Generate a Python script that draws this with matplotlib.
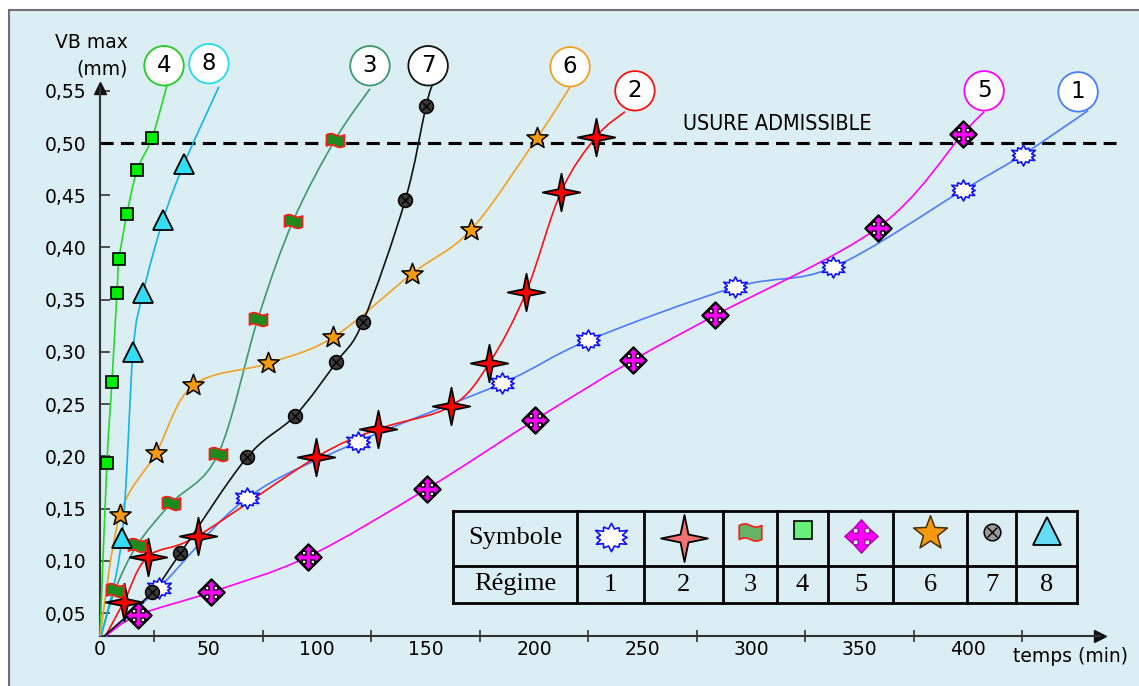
import numpy as np
import matplotlib
matplotlib.use("Agg")
import matplotlib.pyplot as plt
from matplotlib.path import Path
from matplotlib.patches import PathPatch, Rectangle

# ---- données (temps en min, VB max en mm) ----
Y0 = 0.028  # valeur au bas de l'axe vertical (origine des courbes)
regimes = [1, 2, 3, 4, 5, 6, 7, 8]

t1 = [27.2, 67.7, 118.9, 185.3, 224.9, 292.6, 337.8, 397.7, 425.3]
vb1 = [0.074, 0.160, 0.214, 0.270, 0.311, 0.362, 0.381, 0.455, 0.489]

t2 = [11.1, 22.1, 45.2, 99.5, 128.1, 161.8, 179.3, 196.3, 212.4, 228.6]
vb2 = [0.061, 0.104, 0.124, 0.199, 0.226, 0.248, 0.289, 0.357, 0.453, 0.506]

t3 = [6.9, 17.1, 32.7, 54.4, 72.8, 88.9, 108.3]
vb3 = [0.072, 0.115, 0.155, 0.202, 0.332, 0.425, 0.503]

t4 = [3.2, 5.5, 7.8, 8.8, 12.4, 17.1, 24.0]
vb4 = [0.194, 0.271, 0.356, 0.389, 0.432, 0.474, 0.505]

t5 = [17.5, 51.2, 95.9, 150.7, 200.5, 245.6, 283.4, 358.5, 397.7]
vb5 = [0.048, 0.070, 0.104, 0.169, 0.235, 0.292, 0.335, 0.419, 0.509]

t6 = [9.2, 25.8, 42.9, 77.4, 107.4, 143.8, 171.0, 201.4]
vb6 = [0.144, 0.203, 0.268, 0.289, 0.314, 0.375, 0.417, 0.505]

t7 = [24.0, 36.9, 67.7, 89.9, 108.8, 121.2, 140.6, 150.2]
vb7 = [0.070, 0.107, 0.199, 0.239, 0.290, 0.329, 0.445, 0.535]

t8 = [10.1, 15.2, 19.8, 29.0, 38.7]
vb8 = [0.122, 0.300, 0.356, 0.426, 0.480]

# début des courbes sur l'axe des temps
t_debut = [2.5, 2.5, 0.5, 0.0, 2.5, 0.0, 2.0, 0.5]
# fin des courbes (vers la bulle) et centre des bulles numérotées
t_fin = [455.3, 241.9, 124.4, 30.8, 407.4, 217.0, 153.5, 54.8]
vb_fin = [0.531, 0.530, 0.552, 0.555, 0.530, 0.555, 0.558, 0.554]
t_bulle = [450.7, 246.5, 124.4, 29.5, 407.4, 216.6, 151.2, 50.2]
vb_bulle = [0.549, 0.550, 0.574, 0.574, 0.550, 0.573, 0.574, 0.576]

usure_admissible = 0.50
yticks = [0.05, 0.10, 0.15, 0.20, 0.25, 0.30, 0.35, 0.40, 0.45, 0.50, 0.55]
xticks = [0, 50, 100, 150, 200, 250, 300, 350, 400]

series_t = [t1, t2, t3, t4, t5, t6, t7, t8]
series_vb = [vb1, vb2, vb3, vb4, vb5, vb6, vb7, vb8]
couleurs = ['#4a7cff', '#ff1010', '#3c9a6c', '#22dd22', '#ff00ff', '#f5a020', '#111111', '#10b4f0']
bords_bulle = ['#4a7cff', '#ff1010', '#3c9a6c', '#22cc22', '#ff00ff', '#f5a020', '#111111', '#22ddee']

FOND = '#dbeef3'


# ---- formes des symboles ----
def etoile(n, r_int, sx=1.0, sy=1.0, r_ext=None):
    ang = np.linspace(0, 2 * np.pi, 2 * n, endpoint=False) + np.pi / 2
    r = np.where(np.arange(2 * n) % 2 == 0, 1.0, r_int)
    if r_ext is not None:
        r[::2] = r_ext
    v = np.column_stack([sx * r * np.cos(ang), sy * r * np.sin(ang)])
    v = np.vstack([v, v[:1]])
    codes = [Path.MOVETO] + [Path.LINETO] * (len(v) - 2) + [Path.CLOSEPOLY]
    return Path(v, codes)


def drapeau():
    xs = np.linspace(-1, 1, 21)
    haut = 0.62 - 0.14 * np.sin(np.pi * xs)
    bas = -0.62 - 0.14 * np.sin(np.pi * xs)
    v = np.vstack([np.column_stack([xs, haut]), np.column_stack([xs[::-1], bas[::-1]])])
    v = np.vstack([v, v[:1]])
    codes = [Path.MOVETO] + [Path.LINETO] * (len(v) - 2) + [Path.CLOSEPOLY]
    return Path(v, codes)


def fleches():
    w, h, b = 0.2, 0.45, 0.5
    bras = [(w, w), (w, b), (h, b), (0, 1), (-h, b), (-w, b)]
    v = []
    for k in range(4):
        c, s = np.cos(k * np.pi / 2), np.sin(k * np.pi / 2)
        for (x, y) in bras:
            v.append((c * x - s * y, s * x + c * y))
    v.append(v[0])
    codes = [Path.MOVETO] + [Path.LINETO] * (len(v) - 2) + [Path.CLOSEPOLY]
    return Path(v, codes)


LOSANGE = Path([(0, 1), (1, 0), (0, -1), (-1, 0), (0, 1)],
               [Path.MOVETO, Path.LINETO, Path.LINETO, Path.LINETO, Path.CLOSEPOLY])
ECLAT = etoile(12, 0.62, sx=1.3, r_ext=[1, 0.85, 1, 0.8, 0.95, 0.85, 1, 0.8, 0.95, 0.85, 1, 0.8])
ETOILE4 = etoile(4, 0.24)
ETOILE5 = etoile(5, 0.42)
DRAPEAU = drapeau()
FLECHES = fleches()


def symbole(ax, x, y, reg, leg=False, **kw):
    k = 1.35 if leg else 1.0
    if reg == 1:
        ax.plot(x, y, ls='none', marker=ECLAT, ms=17 * k, mfc='white', mec='#1010ff', mew=1.2, **kw)
    elif reg == 2:
        ax.plot(x, y, ls='none', marker=ETOILE4, ms=27 * (1.25 if leg else 1), mew=1.3,
                mfc='#f07272' if leg else '#ff0000', mec='black', **kw)
    elif reg == 3:
        ax.plot(x, y, ls='none', marker=DRAPEAU, ms=13 * (1.25 if leg else 1), mew=1.2,
                mfc='#66b266' if leg else '#1e8a1e', mec='#ff1a1a', **kw)
    elif reg == 4:
        ax.plot(x, y, ls='none', marker='s', ms=8.6 * (1.5 if leg else 1), mew=1.2,
                mfc='#66f077' if leg else '#00ee00', mec='black', **kw)
    elif reg == 5:
        if not leg:
            ax.plot(x, y, ls='none', marker=LOSANGE, ms=19, mfc='#f2f2f2', mec='black', mew=1.5, **kw)
        ax.plot(x, y, ls='none', marker=FLECHES, ms=(24 if leg else 18), mew=1.0,
                mfc='#ff00ff', mec='#aa00aa' if leg else 'black', **kw)
    elif reg == 6:
        ax.plot(x, y, ls='none', marker=ETOILE5, ms=16 * (1.6 if leg else 1), mew=1.1,
                mfc='#f59a10', mec='#4a3000' if leg else 'black', **kw)
    elif reg == 7:
        ax.plot(x, y, ls='none', marker='o', ms=10 * (1.2 if leg else 1), mew=1.1,
                mfc='#999999' if leg else '#3a3a3a', mec='black', **kw)
        ax.plot(x, y, ls='none', marker='x', ms=6 * (1.2 if leg else 1), mew=1.0, color='black', **kw)
    elif reg == 8:
        ax.plot(x, y, ls='none', marker='^', ms=14.5 * (1.35 if leg else 1), mew=1.3,
                mfc='#66dcf5' if leg else '#33ddf5', mec='black', **kw)


def courbe_lisse(x, y):
    p = np.column_stack([x, y])
    q = np.vstack([p[0], p, p[-1]])
    verts = [p[0]]
    codes = [Path.MOVETO]
    for i in range(len(p) - 1):
        p0, p1, p2, p3 = q[i], q[i + 1], q[i + 2], q[i + 3]
        verts += [p1 + (p2 - p0) / 6, p2 - (p3 - p1) / 6, p2]
        codes += [Path.CURVE4] * 3
    return Path(verts, codes)


# ---- figure ----
W, H = 1139, 686
fig = plt.figure(figsize=(W / 100, H / 100), dpi=100)
fig.patch.set_facecolor('white')
fig.patches.append(Rectangle((9 / W, -0.02), 1.1, 1 - 10 / H + 0.02, transform=fig.transFigure,
                             facecolor=FOND, edgecolor='#707070', lw=1.5, zorder=-10))

ax = fig.add_axes([100 / W, 50 / H, 1000 / W, 548 / H])
ax.set_facecolor('none')
ax.set_xlim(0, 460.8)
ax.set_ylim(Y0, 0.5527)

for s in ['top', 'right']:
    ax.spines[s].set_visible(False)
for s in ['left', 'bottom']:
    ax.spines[s].set_color('#333333')
    ax.spines[s].set_linewidth(1.5)
ax.plot(1, 0, '>', color='#111111', ms=9, transform=ax.transAxes, clip_on=False)
ax.plot(0, 1, '^', color='#111111', ms=9, transform=ax.transAxes, clip_on=False)

ax.set_xticks(xticks)
ax.set_xticklabels([str(v) for v in xticks])
ax.set_xticks(np.arange(25, 426, 25), minor=True)
ax.set_yticks(yticks)
ax.set_yticklabels([f"{v:.2f}".replace('.', ',') for v in yticks])
ax.tick_params(axis='x', which='both', direction='inout', length=9, width=1.2, color='#333333',
               labelsize=13.5, pad=3)
ax.tick_params(axis='x', which='major', length=0)
ax.tick_params(axis='y', direction='in', length=7, width=1.2, color='#333333', labelsize=13.5, pad=10)

# limite d'usure
ax.plot([0, 468], [usure_admissible, usure_admissible], color='black', lw=2.2, ls=(0, (4.3, 2.4)),
        clip_on=False, zorder=2)
fig.text(683 / W, 1 - 124 / H, 'USURE ADMISSIBLE', fontsize=15.5, va='center', ha='left',
         fontstretch='condensed')

# courbes et symboles
for i, reg in enumerate(regimes):
    x = [t_debut[i]] + series_t[i] + [t_fin[i]]
    y = [Y0] + series_vb[i] + [vb_fin[i]]
    patch = PathPatch(courbe_lisse(x, y), fill=False, edgecolor=couleurs[i], lw=1.2, zorder=3)
    patch.set_clip_on(False)
    ax.add_patch(patch)
    symbole(ax, series_t[i], series_vb[i], reg, zorder=4, clip_on=False)
    ax.text(t_bulle[i], vb_bulle[i], str(reg), fontsize=16.5, ha='center', va='center', zorder=5,
            bbox=dict(boxstyle='circle,pad=0.36', fc='white', ec=bords_bulle[i], lw=1.3), clip_on=False)

fig.text(128 / W, 1 - 43 / H, 'VB max', fontsize=13.5, ha='right', va='center')
fig.text(128 / W, 1 - 69 / H, '(mm)', fontsize=13.5, ha='right', va='center')
fig.text(1013 / W, 1 - 657 / H, 'temps (min)', fontsize=13.5, ha='left', va='center')

# ---- tableau des symboles ----
cols = [453, 577, 644, 723, 777, 828, 893, 967, 1016, 1077]
lignes = [511, 566, 603]
tab = fig.add_axes([453 / W, (H - 603) / H, 624 / W, 92 / H])
tab.set_xlim(453, 1077)
tab.set_ylim(603, 511)
tab.axis('off')
for c in cols:
    tab.plot([c, c], [lignes[0], lignes[-1]], color='black', lw=2, clip_on=False, solid_capstyle='projecting')
for l in lignes:
    tab.plot([cols[0], cols[-1]], [l, l], color='black', lw=2, clip_on=False, solid_capstyle='projecting')

serif = ['Liberation Serif', 'DejaVu Serif']
tab.text((cols[0] + cols[1]) / 2, 538, 'Symbole', fontsize=19, family=serif, ha='center', va='center')
tab.text((cols[0] + cols[1]) / 2, 584, 'Régime', fontsize=19, family=serif, ha='center', va='center')
y_symb = [537, 538, 532, 530, 536, 533, 532, 531]
for i, reg in enumerate(regimes):
    cx = (cols[i + 1] + cols[i + 2]) / 2
    symbole(tab, [cx], [y_symb[i]], reg, leg=True, clip_on=False)
    tab.text(cx, 585, str(reg), fontsize=19, family=serif, ha='center', va='center')

fig.savefig('out.png', dpi=100, facecolor=fig.get_facecolor())
